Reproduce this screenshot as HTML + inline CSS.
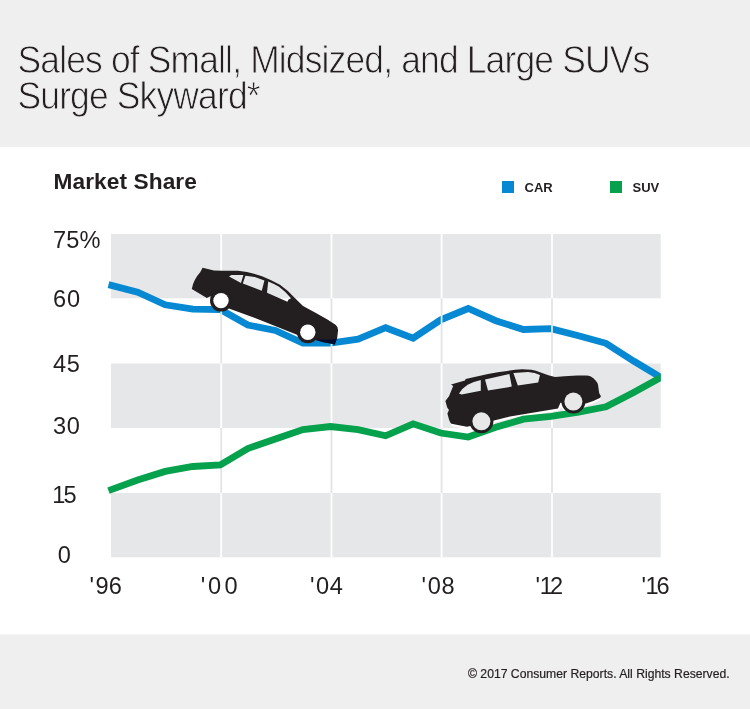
<!DOCTYPE html>
<html lang="en">
<head>
<meta charset="utf-8">
<title>Sales of Small, Midsized, and Large SUVs Surge Skyward</title>
<style>
html,body{margin:0;padding:0;background:#fff;}
body{width:750px;height:709px;overflow:hidden;position:relative;font-family:"Liberation Sans",sans-serif;color:#231f20;}
svg{position:absolute;left:0;top:0;display:block;}
text{font-family:"Liberation Sans",sans-serif;fill:#231f20;}
.title{font-size:38.2px;letter-spacing:-0.9px;fill:#231f20;stroke:#f0efef;stroke-width:0.85px;}
.sub{font-size:22.7px;font-weight:bold;letter-spacing:0.08px;}
.leg{font-size:13px;font-weight:bold;}
.ax{font-size:23.6px;}
.foot{font-size:12.2px;stroke:#231f20;stroke-width:0.2px;}
</style>
</head>
<body>
<svg width="750" height="709" viewBox="0 0 750 709">
<rect x="0" y="0" width="750" height="709" fill="#ffffff"/>
<rect x="0" y="0" width="750" height="147" fill="#f0efef"/>
<rect x="0" y="634.5" width="750" height="75" fill="#f0efef"/>
<text class="title" transform="translate(17.5 72.9) scale(0.927 1)" x="0" y="0">Sales of Small, Midsized, and Large SUVs</text>
<text class="title" transform="translate(17.5 108.9) scale(0.927 1)" x="0" y="0">Surge Skyward*</text>
<text class="sub" x="53.5" y="189.4">Market Share</text>
<rect x="502" y="181" width="12" height="12" fill="#0689d2"/>
<text class="leg" x="524.5" y="192.2">CAR</text>
<rect x="610" y="181" width="12" height="12" fill="#06a14d"/>
<text class="leg" x="632.5" y="192.2">SUV</text>
<!-- bands -->
<g fill="#e6e7e8">
<rect x="111" y="234" width="549.7" height="64.3"/>
<rect x="111" y="363.5" width="549.7" height="64.5"/>
<rect x="111" y="493" width="549.7" height="64.3"/>
</g>
<text class="ax" x="53 66.3 79.6" y="247.8">75%</text>
<text class="ax" x="53 67" y="307.4">60</text>
<text class="ax" x="53 66.8" y="372.3">45</text>
<text class="ax" x="53 66.7" y="433.9">30</text>
<text class="ax" x="52.2 63.6" y="503">15</text>
<text class="ax" x="57.8" y="563">0</text>
<text class="ax" x="89.5 95.4 108.8" y="594">'96</text>
<text class="ax" x="200.7 208.1 224.5" y="594">'00</text>
<text class="ax" x="309.9 316.1 329.8" y="594">'04</text>
<text class="ax" x="421.5 427.8 441.6" y="594">'08</text>
<text class="ax" x="535.5 539.8 549.9" y="594">'12</text>
<text class="ax" x="641.5 645.6 656.5" y="594">'16</text>
<clipPath id="clipR"><rect x="100" y="200" width="560.7" height="400"/></clipPath>
<g clip-path="url(#clipR)" fill="none" stroke-width="6.8" stroke-linejoin="miter" stroke-linecap="butt">
<polyline stroke="#0689d2" points="108.5,284.6 137.7,292.2 165.2,304.8 192.8,309.2 220.3,309.5 247.8,325.0 275.4,330.5 302.9,343.1 330.5,343.0 358.1,339.2 385.6,327.7 413.1,338.2 440.7,319.8 468.2,308.5 495.8,320.7 523.4,329.5 550.9,328.6 578.5,335.8 606.0,343.3 633.6,361.0 664.0,379.3"/>
</g>
<!-- gridlines -->
<g stroke="#e3e4e5" stroke-width="1.8">
<path d="M221.2 298.3V363.5M221.2 428V493M331.5 298.3V363.5M331.5 428V493M441.6 298.3V363.5M441.6 428V493M552 298.3V363.5M552 428V493"/>
</g>
<g stroke="#ffffff" stroke-width="1.8">
<path d="M221.2 234V298.3M221.2 363.5V428M221.2 493V557.3M331.5 234V298.3M331.5 363.5V428M331.5 493V557.3M441.6 234V298.3M441.6 363.5V428M441.6 493V557.3M552 234V298.3M552 363.5V428M552 493V557.3"/>
</g>
<path fill="none" stroke="#ffffff" stroke-width="4.4" stroke-linejoin="round" d="M599.8,398 L593.2,401 L586,403.4 L560.4,402.8 L558,408.5 L510,416.4 L495,420.3 L467,426.8 L460.4,425.6 L451.4,423.8"/>
<circle cx="481.4" cy="421.3" r="13.6" fill="#ffffff"/>
<circle cx="573.4" cy="401.6" r="13.6" fill="#ffffff"/>
<g clip-path="url(#clipR)" fill="none" stroke-width="6.8" stroke-linejoin="miter" stroke-linecap="butt">
<polyline stroke="#06a14d" points="108.5,490.6 137.7,480.0 165.2,471.4 192.8,466.5 220.3,464.8 247.8,448.5 275.4,439.0 302.9,429.5 330.5,426.5 358.1,429.7 385.6,435.8 413.1,423.8 440.7,433.0 468.2,437.0 495.8,427.3 523.4,419.2 550.9,416.4 578.5,412.2 606.0,406.8 633.6,392.5 664.0,375.8"/>
</g>
<g id="sedan">
<path fill="#231f20" fill-rule="evenodd" d="M202.6,267.8 L214,270.6 Q226,271 238,270.8 Q250,271.8 262,276.2 Q272,280.2 280,284.8 Q288,290.4 294.6,297.8 L303,306 L315,312.6 L327,319.2 L335.5,324.8 Q338.4,327 338,331 Q338,337.5 334.8,344.4 L331.8,343.8 L322.2,342 L316,340 L297,334.8 L255,318 L229.6,308.8 L210.4,296.2 L206.8,298 L191.8,289 Q192.6,284 194.8,280 Q197,275.6 200.2,272.2 Z
M229,276.4 L231.4,275 L243.4,275 L241,283 Z
M245.4,275.8 L254.8,277 L264.4,280.6 L261.8,290.8 L242.8,283.6 Z
M268.2,281.4 Q274,283.6 279,286.8 Q286,292 291,298.2 L288.6,299.4 L287.4,301.8 L267,292.8 Z"/>
<clipPath id="sedanClip"><path d="M202.6,267.8 L214,270.6 Q226,271 238,270.8 Q250,271.8 262,276.2 Q272,280.2 280,284.8 Q288,290.4 294.6,297.8 L303,306 L315,312.6 L327,319.2 L335.5,324.8 Q338.4,327 338,331 Q338,337.5 334.8,344.4 L331.8,343.8 L322.2,342 L316,340 L297,334.8 L255,318 L229.6,308.8 L210.4,296.2 L206.8,298 L191.8,289 Q192.6,284 194.8,280 Q197,275.6 200.2,272.2 Z"/></clipPath>
<g clip-path="url(#sedanClip)"><polyline fill="none" stroke="#030c2c" stroke-width="6.8" stroke-linejoin="miter" points="108.5,284.6 137.7,292.2 165.2,304.8 192.8,309.2 220.3,309.5 247.8,325.0 275.4,330.5 302.9,343.1 330.5,343.0 358.1,339.2 385.6,327.7 413.1,338.2 440.7,319.8 468.2,308.5 495.8,320.7 523.4,329.5 550.9,328.6 578.5,335.8 606.0,343.3 633.6,361.0 664.0,379.3"/></g>
<circle cx="221" cy="300.6" r="11" fill="#231f20"/>
<circle cx="221" cy="300.6" r="7.7" fill="#ffffff"/>
<circle cx="307.8" cy="332.2" r="11" fill="#231f20"/>
<circle cx="307.8" cy="332.2" r="7.7" fill="#ffffff"/>
</g>
<g id="suv">
<path fill="#231f20" fill-rule="evenodd" d="M451,384.6 L465,380.4 L465.6,378.9 L488,374 Q498,372.2 507.2,371 Q515,369.6 522,369.2 Q527,369.2 531.6,369.8 Q536,370.8 540,372.2 L548.4,375.2 L555,377 L564.4,376.2 L577.2,375.4 L586,375.4 Q589,375.4 590.8,376.4 Q593.6,378 595.6,380.6 Q597.4,382.6 598,384.8 L599.2,393.2 L601,396.2 L599.8,398 L593.2,401 L586,403.4 L560.4,402.8 L558,408.5 L510,416.4 L495,420.3 L467,426.8 L460.4,425.6 L451.4,423.8 Q449.6,422 449,419.6 L447.4,413.6 L449,410 L447.2,407.6 L445.4,401 L449,396.2 L453.2,386 Z
M459,393.4 Q462.6,388 467.6,384.8 Q473.6,381.6 480.8,380 L480.8,390.8 L461.6,394.6 Z
M485,379.4 L509.4,374 L511.8,386.6 L488,390.6 Z
M513.4,373 L528,372 Q535,372.6 540,375 L538.2,382.4 L517.8,385.4 Z"/>
<circle cx="481.4" cy="421.3" r="12" fill="#231f20"/>
<circle cx="481.4" cy="421.3" r="9" fill="#e8e8e9"/>
<circle cx="573.4" cy="401.6" r="12" fill="#231f20"/>
<circle cx="573.4" cy="401.6" r="9" fill="#e8e8e9"/>
</g>

<text class="foot" x="468" y="678.4">© 2017 Consumer Reports. All Rights Reserved.</text>
</svg>
</body>
</html>
